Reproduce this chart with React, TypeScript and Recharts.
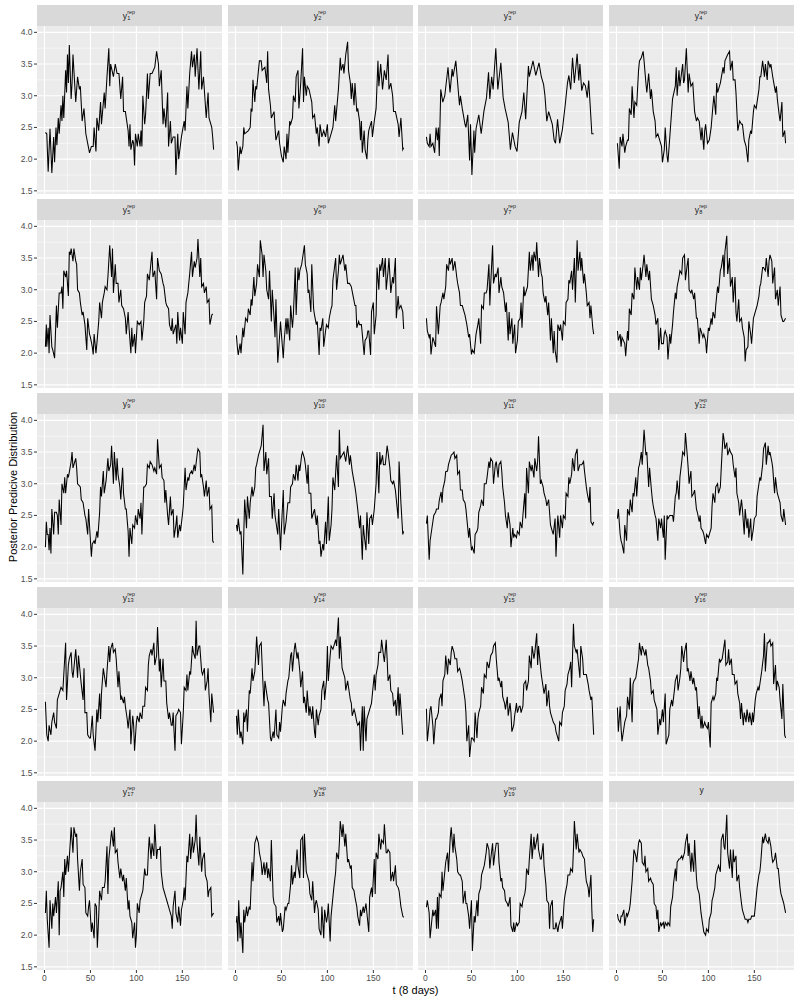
import React from "react";
import { LineChart, Line, XAxis, YAxis, CartesianGrid } from "recharts";

type Pt = [number, number];

// [t, value] pairs
const Y_REP_1: Pt[] = [[1,2.42],[2.5,2.4],[4,1.8],[6,2.48],[8,1.78],[10,2.35],[11,1.95],[12.5,2.5],[13.5,2.22],[15,2.65],[16,2.4],[18,2.85],[19,2.6],[20,3.0],[21,2.65],[23,3.4],[24,3.05],[25,3.65],[26,3.2],[27,3.8],[29,2.95],[30,3.2],[31,3.65],[34,2.9],[36,3.3],[38,3.1],[39,3.15],[41,2.6],[43,2.8],[45,2.4],[47,2.25],[49,2.1],[51,2.2],[53,2.2],[54,2.5],[56,2.12],[57,2.65],[59,2.45],[61,2.9],[62,2.55],[65,3.05],[66,2.8],[68,3.3],[70,3.75],[71,3.15],[72,3.5],[75,3.3],[77,3.5],[79,3.35],[81,3.35],[83,2.95],[85,3.3],[86,2.75],[88,2.75],[91,2.45],[92,2.2],[93,2.55],[94,2.15],[96,2.3],[97,2.25],[98,1.9],[99,2.4],[101,2.2],[102,2.4],[104,2.2],[105,2.45],[106,2.2],[107,3.0],[109,2.55],[110,2.7],[112,3.35],[113,2.95],[115,3.35],[117,3.35],[120,3.45],[122,3.7],[124,3.5],[125,3.15],[127,3.4],[129,2.55],[130,2.8],[132,2.5],[134,3.05],[135,2.2],[137,2.6],[138,2.25],[140,2.35],[142,2.35],[143,1.75],[145,2.4],[146,2.0],[149,2.35],[152,2.6],[153,2.45],[155,3.15],[156,2.8],[158,3.35],[160,3.7],[161,3.45],[163,3.65],[164,3.3],[166,3.75],[168,3.1],[170,3.7],[171,3.1],[173,3.3],[176,2.65],[178,3.05],[179,2.65],[182,2.5],[183,2.35],[184,2.15]];
const Y_REP_2: Pt[] = [[1,2.28],[2,2.2],[3,1.82],[5,2.2],[6,2.08],[8,2.2],[9,2.5],[10,2.4],[14,2.45],[16,2.5],[17,2.8],[18,2.75],[19,3.25],[21,2.9],[22,3.15],[23,3.1],[26,3.55],[28,3.55],[29,3.4],[32,3.45],[34,3.2],[35,3.7],[36,3.1],[38,2.85],[39,2.65],[42,2.75],[43,2.5],[44,2.3],[47,2.45],[48,2.25],[50,2.05],[52,1.95],[53,2.2],[55,2.0],[56,2.4],[57,2.1],[59,2.6],[60,2.55],[62,2.65],[63,3.0],[65,2.9],[66,3.3],[68,3.4],[69,2.8],[71,3.2],[73,3.75],[74,2.9],[75,3.3],[77,3.0],[78,3.15],[80,3.1],[83,2.9],[84,2.65],[86,2.7],[88,2.4],[89,2.5],[91,2.2],[92,2.55],[94,2.35],[96,2.45],[98,2.35],[100,2.55],[101,2.25],[104,2.4],[106,2.5],[108,2.85],[109,2.6],[112,3.1],[114,3.6],[115,3.4],[117,3.5],[118,3.35],[120,3.65],[122,3.85],[123,3.4],[125,3.2],[126,2.95],[127,3.2],[129,2.85],[130,3.2],[132,2.75],[133,2.8],[135,2.6],[136,2.3],[137,2.6],[138,2.1],[140,2.45],[141,2.15],[143,2.0],[144,2.3],[145,2.45],[148,2.6],[149,2.35],[151,2.6],[153,2.8],[155,3.55],[156,3.15],[158,3.5],[160,3.1],[162,3.4],[164,3.25],[166,3.65],[167,3.1],[169,3.2],[171,3.0],[172,2.75],[174,2.75],[177,2.55],[178,2.35],[180,2.65],[182,2.15],[183,2.18]];
const Y_REP_3: Pt[] = [[1,2.35],[2,2.25],[4,2.2],[5,2.4],[6,2.2],[8,2.25],[10,2.1],[11.5,2.5],[13,2.3],[14,2.5],[15,2.05],[16.6,3.1],[18.8,2.9],[21,3.0],[24.5,3.45],[26.7,3.05],[29,3.42],[30,3.3],[33,3.55],[35,3.2],[37,2.85],[38,3.0],[40,2.8],[43,2.55],[44,2.5],[46,2.7],[48,1.98],[49,2.55],[50.5,1.75],[52.7,2.45],[53.5,2.1],[55,2.48],[58,2.7],[60.6,2.4],[63.5,2.75],[66.4,2.97],[68.6,3.37],[70,2.95],[72,3.3],[73.6,3.1],[76.5,3.75],[78.7,3.1],[82,3.52],[84.5,2.97],[86.6,2.8],[90,2.58],[92.4,2.15],[94.6,2.42],[97.5,2.2],[99.6,2.12],[102,2.58],[105,2.75],[107,3.05],[109,2.63],[112,3.47],[113,3.3],[117,3.55],[120,3.32],[123.5,3.52],[126,3.3],[128.5,3.18],[130,3.0],[132,2.6],[134,2.75],[138,2.55],[140,2.3],[141.5,2.25],[143.7,2.63],[146,2.25],[149,2.47],[152,2.85],[154.5,3.2],[156,3.32],[158,3.1],[160,3.6],[162,3.2],[165,3.66],[166.8,3.24],[168,3.5],[170,3.08],[172,3.2],[174,3.16],[176,2.97],[177.6,3.24],[180,2.65],[181,2.4],[183,2.4]];
const Y_REP_4: Pt[] = [[1,2.25],[3,1.85],[4,2.35],[6,2.2],[7,2.4],[9,2.1],[10,2.2],[12,2.3],[13,2.3],[14,2.8],[16,2.7],[17,3.15],[19,2.65],[20,2.9],[22,2.85],[24,3.4],[25,3.55],[27,3.6],[29,3.7],[30,3.55],[32,3.2],[33,3.05],[35,3.35],[37,2.95],[38,3.1],[40,2.75],[42,2.6],[43,2.35],[45,2.4],[48,2.25],[49,2.2],[50,1.95],[52,2.15],[53,2.5],[55,2.05],[56,1.95],[58,2.35],[59,2.55],[61,2.95],[64,3.15],[65,3.45],[66,3.0],[68,3.4],[69,3.15],[72,3.5],[73,3.2],[74,3.25],[76,3.75],[78,3.05],[79,3.35],[81,3.15],[83,3.2],[85,2.75],[87,2.6],[88,2.65],[90,2.6],[92,2.3],[93,2.5],[95,2.15],[96,2.45],[97,2.55],[99,2.25],[101,2.3],[103,2.5],[105,2.85],[106,3.0],[108,2.7],[109,3.2],[110,3.05],[113,3.2],[116,3.45],[117,3.35],[118,3.55],[121,3.65],[123,3.7],[124,3.4],[126,3.55],[127,3.25],[129,3.25],[130,3.05],[132,2.45],[134,2.6],[136,2.55],[137,2.55],[139,2.3],[141,2.2],[143,1.95],[144,2.3],[146,2.45],[147,2.4],[149,2.75],[150,2.85],[152,2.8],[155,3.1],[156,3.3],[157,3.3],[159,3.55],[161,3.3],[162,3.5],[164,3.25],[165,3.55],[167,3.45],[168,3.5],[170,3.3],[173,3.05],[174,3.15],[175,2.95],[177,2.7],[178,2.6],[180,2.9],[181,2.35],[183,2.45],[184,2.25]];
const Y_REP_5: Pt[] = [[1,2.1],[2,2.45],[2.5,2.1],[4,2.4],[5,2.0],[6,2.6],[8,2.1],[9,2.05],[11,1.92],[13,2.75],[14,2.4],[16,2.95],[18,2.95],[19,3.05],[20,2.7],[21,3.3],[23,3.2],[24,3.3],[26,2.9],[27,3.6],[28,3.55],[29,3.65],[31,3.45],[32,3.65],[34,3.45],[35,3.4],[36,3.0],[38,2.95],[39,2.8],[41,2.6],[42,2.65],[44,2.45],[46,2.05],[47,2.55],[49,2.3],[50,2.25],[52,2.1],[53,1.98],[54,2.3],[56,2.0],[57,2.15],[59,2.5],[60,2.8],[62,2.55],[63,2.8],[65,2.95],[66,3.05],[68,3.0],[69,3.2],[71,3.7],[73,3.2],[74,3.65],[75,2.95],[77,3.4],[78,3.1],[80,3.1],[81,2.8],[83,3.0],[84,2.75],[86,2.7],[88,2.55],[89,2.3],[91,2.65],[92,2.4],[94,2.0],[95,2.4],[96,2.1],[98,2.3],[99,2.0],[101,2.5],[103,2.45],[105,2.5],[106,2.2],[108,2.5],[109,2.8],[111,2.9],[112,3.25],[114,3.15],[115,3.3],[117,3.6],[118,3.2],[120,3.3],[122,2.85],[123,3.5],[125,3.3],[127,3.25],[129,3.1],[130,3.05],[132,2.8],[133,2.75],[135,2.7],[136,2.45],[138,2.35],[139,2.55],[140,2.3],[143,2.45],[144,2.15],[145,2.65],[147,2.2],[148,2.4],[150,2.15],[151,2.65],[153,2.3],[154,2.8],[156,2.95],[157,3.1],[158,3.25],[160,3.6],[161,3.2],[163,3.45],[164,3.35],[166,3.5],[167,3.8],[169,3.2],[170,3.5],[171,3.05],[173,3.1],[174,2.95],[176,3.05],[177,2.8],[179,2.85],[180,2.45],[182,2.6],[183,2.62]];
const Y_REP_6: Pt[] = [[1,2.28],[2,2.1],[3,1.97],[5,2.15],[6,2.0],[8,2.4],[9,2.25],[11,2.55],[13,2.5],[14,2.7],[16,2.6],[17,2.85],[18,2.75],[20,3.2],[21,2.9],[23,3.1],[24,3.4],[26,3.2],[27,3.78],[29,3.55],[30,3.2],[31,3.55],[33,3.3],[34,3.0],[36,2.85],[37,3.3],[39,2.5],[40,3.0],[42,2.55],[43,2.25],[44,2.85],[46,1.85],[47,2.05],[49,2.5],[50,2.3],[52,1.92],[53,2.2],[55,2.55],[56,2.3],[57,2.55],[59,2.2],[60,2.75],[62,2.4],[63,2.6],[65,3.35],[66,2.6],[68,3.35],[69,3.15],[70,3.3],[72,3.4],[73,3.5],[75,3.7],[76,3.4],[78,3.25],[79,2.95],[80,3.0],[82,2.65],[83,3.4],[85,2.7],[86,2.6],[88,2.45],[89,2.5],[91,1.97],[92,2.4],[93,2.35],[95,2.55],[96,2.1],[98,2.35],[99,2.45],[101,2.4],[102,2.55],[104,2.7],[105,2.75],[106,3.15],[109,3.5],[110,3.0],[112,3.3],[113,3.55],[114,3.4],[117,3.55],[119,3.3],[120,3.4],[122,3.1],[124,3.1],[126,3.05],[128,2.9],[130,2.75],[131,2.75],[132,2.4],[134,2.5],[135,2.45],[137,2.45],[138,2.3],[140,1.97],[141,2.2],[143,2.25],[144,2.35],[145,2.35],[147,1.97],[148,2.65],[150,2.8],[151,2.3],[153,2.6],[154,3.35],[156,3.0],[157,3.4],[158,3.3],[160,3.5],[161,3.2],[163,3.5],[164,3.0],[166,3.3],[167,3.5],[169,2.95],[171,3.2],[172,3.1],[174,3.5],[175,2.55],[177,2.9],[178,2.7],[180,2.75],[182,2.65],[183,2.38]];
const Y_REP_7: Pt[] = [[1,2.55],[2,2.35],[4,2.25],[5,2.3],[6,1.98],[8,2.25],[9,2.2],[11,2.1],[12,2.74],[14,2.3],[16,2.75],[17,2.8],[19,2.95],[20,2.85],[22,3.05],[23,3.4],[25,3.3],[26,3.5],[27,3.4],[29,3.5],[30,3.3],[32,3.45],[34,3.2],[35,3.1],[37,2.95],[38,2.75],[40,2.75],[43,2.6],[45,2.45],[47,2.25],[48,2.3],[50,1.98],[51,2.05],[53,2.0],[55,2.3],[57,2.45],[58,2.55],[60,2.15],[61,2.75],[63,2.7],[64,2.95],[66,2.95],[67,3.0],[69,3.4],[70,2.75],[71,3.1],[73,3.7],[74,3.1],[76,3.25],[77,3.2],[79,3.35],[80,2.95],[82,3.2],[83,3.05],[85,2.95],[87,2.65],[88,2.8],[90,2.2],[91,2.65],[92,2.3],[94,2.55],[95,2.15],[97,2.45],[98,2.0],[100,2.2],[101,2.5],[103,2.55],[104,2.8],[105,2.4],[107,3.05],[108,2.9],[110,3.0],[111,3.05],[113,3.6],[114,3.3],[116,3.55],[117,3.3],[118,3.6],[120,3.45],[121,3.75],[123,3.2],[124,3.5],[126,3.25],[127,3.2],[128,2.95],[130,2.8],[131,2.9],[133,2.6],[134,2.8],[136,2.2],[137,2.55],[139,2.0],[140,2.35],[141,2.05],[143,1.85],[144,2.45],[146,2.35],[147,2.45],[149,2.2],[150,2.5],[152,2.45],[153,2.8],[155,2.85],[156,3.15],[157,3.1],[159,3.3],[160,3.0],[162,3.5],[163,2.8],[165,3.78],[166,3.3],[168,3.6],[169,3.3],[170,3.5],[172,3.1],[173,3.25],[175,2.95],[176,2.75],[178,2.8],[179,2.55],[180,2.75],[182,2.4],[183,2.3]];
const Y_REP_8: Pt[] = [[1,2.35],[2,2.2],[4,2.3],[5,2.1],[6,2.25],[9,2.15],[10,1.95],[12,2.35],[13,2.2],[14,2.7],[16,2.6],[17,2.95],[19,2.85],[20,3.35],[22,3.0],[23,3.2],[25,3.0],[26,3.35],[27,3.15],[29,3.4],[30,3.55],[32,3.2],[33,3.4],[35,3.15],[36,3.3],[38,2.85],[39,2.8],[40,2.75],[42,2.6],[43,2.45],[45,2.55],[46,2.05],[48,2.4],[49,2.15],[51,2.15],[52,2.3],[53,2.35],[55,2.25],[56,1.9],[58,2.3],[59,2.15],[61,2.45],[62,2.65],[64,2.95],[65,2.85],[66,3.05],[68,3.2],[69,3.3],[71,3.25],[72,3.5],[74,3.55],[75,3.15],[77,3.4],[78,3.5],[79,3.0],[81,2.95],[82,3.0],[84,2.85],[85,2.95],[87,2.55],[88,2.55],[90,2.15],[91,2.4],[92,2.35],[94,2.25],[95,2.3],[97,2.2],[98,2.0],[100,2.4],[101,2.35],[103,2.55],[104,2.45],[105,2.65],[107,2.55],[108,2.75],[110,3.05],[111,2.95],[113,3.3],[114,3.35],[116,3.55],[117,3.2],[118,3.6],[120,3.85],[121,3.25],[123,3.5],[124,3.05],[126,3.2],[127,2.8],[129,3.2],[130,2.65],[131,2.5],[133,2.85],[134,2.5],[136,2.55],[137,2.4],[139,2.25],[140,1.87],[141,2.05],[143,2.1],[144,2.5],[146,2.3],[147,2.15],[149,2.55],[150,2.6],[152,2.7],[153,2.75],[155,2.9],[156,3.05],[157,3.1],[159,3.35],[160,3.35],[162,3.3],[163,3.5],[165,3.2],[166,3.45],[167,3.55],[169,3.45],[170,3.1],[172,3.35],[173,2.85],[175,3.0],[176,2.75],[178,3.05],[179,2.6],[181,2.5],[182,2.5],[184,2.55]];
const Y_REP_9: Pt[] = [[1,2.0],[2,2.4],[3,2.2],[4,2.2],[5,1.95],[6,2.3],[7,1.9],[8,2.6],[10,2.2],[11,2.55],[13,2.55],[14,2.5],[15,2.2],[16,2.75],[18,2.35],[19,3.0],[21,2.85],[22,3.1],[23,2.85],[25,3.15],[26,3.1],[29,3.35],[30,3.5],[31,3.25],[34,3.4],[35,3.25],[36,3.0],[39,2.95],[40,2.75],[42,2.7],[44,2.5],[45,2.45],[47,2.2],[48,2.6],[49,2.35],[51,1.85],[52,2.05],[54,2.1],[55,2.05],[57,2.25],[58,2.15],[60,2.55],[61,2.95],[62,2.8],[64,3.2],[65,2.85],[67,3.05],[69,3.4],[70,3.2],[72,3.3],[73,3.6],[75,3.0],[76,3.5],[78,3.05],[79,3.4],[80,3.15],[82,2.95],[83,2.75],[85,3.25],[86,2.85],[88,2.6],[89,2.6],[91,2.25],[92,1.85],[93,2.3],[95,2.05],[96,2.35],[98,2.3],[99,2.5],[101,2.35],[102,2.6],[104,2.45],[105,2.7],[106,2.2],[108,2.95],[109,2.95],[111,3.0],[112,3.3],[114,3.25],[115,3.35],[117,3.3],[119,3.2],[120,3.25],[122,3.15],[123,3.7],[125,3.25],[127,3.3],[128,3.1],[130,3.05],[131,2.7],[132,2.9],[134,2.5],[135,2.35],[137,2.8],[138,2.5],[140,2.6],[141,2.15],[143,2.35],[144,2.5],[145,2.15],[147,2.35],[148,2.25],[150,2.5],[151,2.65],[153,3.25],[154,2.9],[156,3.1],[157,3.05],[158,3.15],[160,3.2],[161,3.15],[163,3.3],[164,3.2],[166,3.45],[167,3.55],[169,3.5],[170,3.1],[171,3.15],[173,2.95],[174,2.8],[176,3.05],[177,2.8],[179,2.95],[180,2.6],[182,2.65],[183,2.1],[184,2.07]];
const Y_REP_10: Pt[] = [[1,2.35],[2,2.25],[3,2.45],[5,2.2],[6,2.25],[8,1.57],[9,2.2],[10,2.75],[12,2.3],[13,2.8],[15,2.45],[16,2.7],[18,2.95],[19,2.8],[21,2.95],[22,3.25],[23,3.3],[25,3.45],[26,3.5],[28,3.6],[30,3.93],[31,3.2],[33,3.5],[34,3.15],[36,3.4],[37,2.8],[39,2.8],[40,2.45],[42,2.85],[43,2.5],[44,2.4],[46,2.2],[47,2.6],[49,1.95],[50,2.3],[52,2.9],[53,2.2],[55,2.4],[56,2.55],[57,2.7],[59,2.7],[60,2.95],[62,3.0],[63,3.15],[65,3.05],[66,3.3],[68,3.05],[69,3.3],[70,3.2],[72,3.45],[73,3.5],[75,3.4],[76,3.3],[78,3.0],[79,3.3],[80,2.85],[82,2.85],[83,2.45],[85,2.55],[86,2.6],[88,2.35],[89,2.5],[91,2.05],[92,2.1],[93,1.85],[95,2.05],[96,1.95],[98,2.4],[99,2.05],[101,2.8],[102,2.1],[104,2.35],[105,2.6],[106,3.1],[108,2.9],[110,3.45],[112,2.95],[113,3.85],[114,3.4],[116,3.45],[118,3.5],[120,3.35],[122,3.6],[124,3.3],[125,3.45],[127,3.2],[130,2.95],[131,2.85],[133,2.6],[135,2.3],[136,2.5],[138,1.8],[139,2.35],[140,2.2],[142,1.95],[143,2.55],[145,2.05],[146,2.45],[148,2.5],[149,2.35],[151,2.6],[153,3.0],[154,3.5],[156,2.85],[157,3.5],[158,3.3],[160,3.45],[161,3.3],[163,3.3],[165,3.6],[166,3.5],[168,3.25],[169,3.05],[171,3.0],[172,3.05],[174,2.9],[177,2.45],[178,3.35],[180,2.7],[182,2.2],[183,2.25]];
const Y_REP_11: Pt[] = [[1,2.37],[2,2.5],[4,1.8],[5,2.1],[6,2.2],[8,2.4],[9,2.5],[11,2.55],[12,2.6],[14,2.6],[15,2.74],[17,2.87],[18,2.7],[19,2.92],[21,3.05],[22,3.19],[24,3.2],[25,3.3],[27,3.4],[28,3.45],[30,3.48],[31,3.5],[32,3.4],[34,3.45],[35,3.15],[37,3.2],[38,2.9],[40,2.9],[41,2.75],[43,2.7],[44,2.6],[45,2.45],[47,2.15],[48,2.3],[50,1.95],[51,2.0],[53,1.9],[54,2.2],[56,2.25],[57,2.3],[58,2.55],[60,2.65],[61,2.75],[63,2.65],[64,3.0],[66,3.0],[67,3.1],[69,3.35],[70,3.25],[71,3.4],[73,3.35],[74,3.0],[76,3.3],[77,3.35],[79,3.1],[80,3.3],[82,3.35],[83,3.2],[84,2.95],[86,2.7],[87,2.5],[89,2.3],[90,2.55],[92,2.35],[93,2.0],[95,2.3],[96,2.15],[97,2.2],[99,2.15],[100,2.25],[102,2.2],[103,2.4],[105,2.3],[106,2.5],[108,2.85],[109,2.45],[110,3.25],[112,2.85],[113,3.35],[115,3.2],[116,3.3],[118,3.1],[119,3.4],[121,3.2],[122,3.35],[123,3.75],[125,3.0],[126,3.05],[128,2.95],[129,2.85],[131,2.75],[132,2.65],[134,2.75],[135,2.55],[136,2.35],[138,2.25],[139,2.2],[141,2.45],[142,1.85],[143,2.2],[144,2.5],[146,2.15],[147,2.5],[149,2.3],[150,2.5],[152,2.45],[153,2.85],[155,2.8],[156,3.1],[157,3.0],[159,3.15],[160,3.4],[162,3.2],[163,3.45],[165,3.55],[166,3.2],[168,3.3],[169,3.3],[170,3.3],[172,3.35],[173,3.2],[175,2.95],[176,2.85],[178,2.7],[179,2.95],[180,2.4],[182,2.35],[183,2.4]];
const Y_REP_12: Pt[] = [[1,2.45],[2,2.6],[4,2.2],[5,2.1],[6,2.05],[8,1.9],[9,2.35],[11,2.1],[12,2.6],[14,2.5],[15,2.75],[17,2.55],[18,2.85],[19,2.8],[21,3.1],[22,2.8],[24,3.25],[25,3.3],[27,3.5],[28,3.3],[30,3.85],[32,3.45],[33,3.5],[35,2.95],[36,3.25],[38,2.9],[39,2.75],[40,2.65],[42,2.5],[43,2.45],[45,2.1],[46,2.45],[48,2.3],[49,2.45],[51,2.15],[52,2.5],[53,1.8],[55,2.5],[56,2.45],[58,2.5],[59,2.5],[61,2.5],[62,2.4],[64,2.8],[65,2.85],[66,3.05],[68,2.75],[69,3.1],[71,3.35],[72,3.5],[74,3.45],[75,3.8],[77,3.45],[78,3.25],[79,3.0],[81,3.2],[82,2.8],[84,2.85],[85,2.9],[87,2.6],[88,2.55],[90,2.4],[91,2.5],[92,2.3],[94,2.25],[95,2.2],[97,2.05],[98,2.2],[100,2.15],[101,2.2],[103,2.3],[104,2.65],[105,2.85],[107,2.7],[108,2.95],[110,3.0],[111,2.85],[113,2.95],[114,3.25],[116,3.8],[117,3.7],[118,3.55],[120,3.65],[121,3.45],[123,3.55],[124,3.5],[126,3.45],[127,3.3],[129,3.1],[130,3.25],[131,2.85],[133,2.7],[134,2.5],[136,2.75],[137,2.6],[139,2.2],[140,2.6],[142,2.3],[143,2.45],[144,2.15],[146,2.45],[147,2.1],[149,2.3],[150,2.45],[152,2.5],[153,2.8],[155,3.0],[156,3.1],[157,3.05],[159,3.3],[160,3.55],[162,3.65],[163,3.3],[165,3.6],[166,3.45],[167,3.5],[169,3.35],[170,3.25],[172,2.85],[173,3.1],[175,2.85],[176,2.8],[178,2.7],[179,2.5],[181,2.4],[182,2.6],[184,2.35]];
const Y_REP_13: Pt[] = [[1,2.62],[2.5,2.1],[4,2.0],[5,2.25],[7,2.1],[8,2.3],[10,2.45],[11,2.3],[13,2.2],[14,2.65],[16,2.75],[17,2.8],[18,2.85],[20,2.8],[21,3.05],[23,3.55],[24,2.65],[26,3.2],[27,3.3],[29,3.4],[30,3.1],[31,3.0],[33,3.3],[34,3.45],[36,3.0],[37,3.35],[39,3.05],[40,2.9],[42,2.65],[43,3.15],[44,2.45],[46,2.45],[47,2.1],[49,2.05],[50,2.05],[52,2.4],[53,2.1],[55,1.85],[57,2.5],[58,2.3],[60,2.75],[61,2.35],[62,2.75],[64,3.15],[65,3.05],[67,2.85],[68,3.1],[70,3.5],[71,3.25],[72,3.45],[74,3.55],[75,3.4],[77,3.45],[78,3.3],[80,2.85],[81,3.1],[83,2.65],[84,2.7],[86,2.6],[87,2.7],[88,2.55],[90,2.35],[91,2.2],[93,2.5],[94,1.95],[96,2.4],[97,2.25],[98,1.85],[100,2.3],[101,2.4],[103,2.3],[104,2.45],[106,2.35],[107,2.55],[109,2.55],[110,2.85],[112,2.8],[113,3.2],[114,3.35],[116,3.45],[117,3.35],[119,3.55],[120,3.2],[122,3.35],[123,3.8],[125,3.1],[126,3.3],[127,2.85],[129,3.3],[130,2.95],[132,2.95],[133,2.6],[135,2.35],[136,2.45],[138,2.25],[139,2.25],[140,2.45],[142,1.85],[143,2.4],[145,2.45],[146,2.5],[148,2.45],[149,1.95],[151,2.45],[152,2.85],[154,2.8],[155,3.05],[156,2.8],[158,3.1],[159,3.05],[161,3.5],[162,3.4],[164,3.3],[165,3.9],[166,3.35],[168,3.5],[169,3.5],[171,3.1],[172,3.05],[174,3.15],[175,2.8],[177,2.95],[178,3.15],[179,2.75],[181,2.3],[182,2.75],[184,2.45]];
const Y_REP_14: Pt[] = [[1,2.4],[2,2.1],[3,2.5],[5,2.05],[6,2.15],[8,1.95],[9,2.45],[10,2.3],[12,2.5],[13,2.15],[15,2.8],[16,2.75],[18,3.15],[19,2.95],[21,3.1],[22,3.35],[23,3.65],[25,3.2],[26,3.5],[28,3.55],[29,3.2],[31,2.55],[32,2.95],[34,2.75],[35,2.65],[36,2.6],[38,2.05],[39,2.0],[41,2.15],[42,2.05],[44,2.5],[45,2.1],[47,2.05],[48,2.3],[49,2.15],[51,2.55],[52,2.65],[54,2.55],[55,2.75],[57,2.95],[58,3.0],[60,3.35],[61,3.4],[62,3.1],[64,3.45],[65,3.55],[67,3.3],[68,3.4],[70,3.1],[71,2.85],[73,3.1],[74,2.6],[75,2.7],[77,2.45],[78,2.8],[80,2.4],[81,2.55],[83,2.35],[84,2.55],[86,2.15],[87,2.05],[88,2.5],[90,2.25],[91,2.4],[93,2.5],[94,2.8],[96,2.95],[97,2.65],[99,2.95],[100,3.5],[101,2.95],[103,3.35],[104,3.5],[106,3.45],[107,3.5],[109,3.6],[110,3.5],[112,3.95],[113,3.3],[114,3.65],[116,3.15],[117,3.1],[119,3.0],[120,2.8],[122,2.95],[123,2.85],[125,2.65],[126,2.6],[127,2.4],[129,2.5],[130,2.45],[132,2.3],[133,2.25],[135,2.3],[136,1.85],[138,2.55],[139,1.85],[140,2.55],[142,2.0],[143,2.35],[145,2.45],[146,2.5],[148,2.6],[149,2.75],[151,3.05],[152,2.8],[153,3.05],[155,3.2],[156,3.4],[158,3.4],[159,3.6],[161,3.35],[162,3.25],[164,3.6],[165,3.3],[166,2.95],[168,3.05],[169,2.8],[171,2.75],[172,2.55],[174,2.65],[175,2.4],[177,2.85],[178,2.4],[179,2.75],[182,2.1]];
const Y_REP_15: Pt[] = [[1,2.51],[2,2.0],[4,2.3],[5,2.5],[6,2.55],[8,2.25],[9,1.95],[11,2.35],[12,2.35],[14,2.45],[15,2.65],[17,2.75],[18,2.55],[19,2.95],[21,3.05],[22,3.35],[24,3.05],[25,3.3],[27,3.2],[28,3.4],[29,3.5],[31,3.4],[32,3.3],[34,3.3],[35,3.1],[37,3.15],[38,3.1],[40,2.95],[41,2.85],[43,2.65],[44,2.45],[45,2.0],[47,2.25],[48,1.75],[50,2.05],[51,2.05],[53,2.0],[54,2.45],[56,2.05],[57,2.35],[58,2.45],[60,2.55],[61,2.85],[63,2.75],[64,3.05],[66,3.0],[67,3.25],[69,3.15],[70,3.25],[71,3.35],[73,3.4],[74,3.5],[76,3.55],[77,3.3],[79,2.95],[80,3.0],[82,2.85],[83,2.95],[84,2.7],[86,2.6],[87,2.5],[89,2.7],[90,2.4],[92,2.6],[93,2.45],[94,2.15],[96,2.25],[97,2.4],[99,2.6],[100,2.45],[102,2.55],[103,2.55],[104,2.45],[106,2.55],[107,2.9],[109,2.95],[110,2.8],[112,2.95],[113,3.35],[115,3.15],[116,3.5],[118,3.3],[119,3.4],[121,3.7],[122,3.2],[123,3.5],[125,3.2],[126,3.05],[128,2.85],[129,2.75],[131,2.9],[132,2.55],[134,2.8],[135,2.55],[136,2.45],[138,2.35],[139,2.3],[141,2.25],[142,2.15],[144,2.05],[145,2.0],[146,2.3],[148,2.25],[149,2.45],[151,2.55],[152,2.8],[154,2.9],[155,3.05],[157,3.15],[158,3.25],[159,2.85],[161,3.85],[162,3.5],[164,3.4],[165,3.45],[166,3.3],[168,3.0],[169,3.5],[171,3.3],[172,3.05],[174,3.05],[175,3.05],[177,2.9],[178,2.8],[180,2.65],[181,2.7],[183,2.1]];
const Y_REP_16: Pt[] = [[1,2.53],[2,2.15],[4,2.55],[5,2.2],[6,2.0],[8,2.2],[9,2.3],[11,2.4],[12,2.7],[14,2.5],[15,3.0],[17,2.3],[18,2.9],[19,2.95],[21,3.0],[22,3.1],[24,3.3],[25,3.55],[27,3.35],[28,3.5],[30,3.4],[31,3.35],[32,3.45],[34,3.2],[35,3.15],[37,2.95],[38,2.75],[40,2.8],[41,2.65],[43,2.55],[44,2.5],[45,2.1],[47,2.35],[48,2.25],[50,2.5],[51,2.3],[53,2.75],[54,1.95],[56,2.05],[57,2.1],[58,2.5],[60,2.65],[61,2.55],[63,2.8],[64,2.95],[66,3.05],[67,2.8],[69,3.0],[70,3.15],[71,3.5],[73,3.25],[74,3.4],[76,3.55],[77,3.1],[78,3.15],[80,2.95],[81,3.1],[83,2.9],[84,3.0],[86,2.8],[87,2.85],[89,2.35],[90,2.55],[92,2.2],[93,2.4],[94,2.2],[96,2.3],[97,2.25],[99,2.2],[100,2.3],[102,1.9],[103,2.6],[105,2.7],[106,2.65],[108,2.75],[109,3.0],[110,2.95],[112,3.3],[113,3.25],[115,3.3],[116,3.4],[118,3.6],[119,3.2],[121,3.25],[122,3.45],[123,3.2],[125,3.3],[126,3.05],[128,3.05],[129,2.9],[131,2.95],[132,2.75],[134,2.6],[135,2.35],[136,2.6],[138,2.25],[139,2.45],[141,2.3],[142,2.5],[144,2.3],[145,2.45],[147,2.25],[148,2.45],[149,2.3],[151,2.65],[152,2.75],[154,2.85],[155,2.8],[157,3.0],[158,3.1],[160,3.35],[161,3.7],[162,3.1],[164,3.55],[165,3.55],[167,3.6],[168,3.5],[170,3.55],[171,2.9],[173,3.2],[174,2.8],[175,2.95],[177,2.85],[178,2.65],[180,2.35],[181,2.9],[183,2.1],[184,2.05]];
const Y_REP_17: Pt[] = [[1,2.35],[2,2.7],[3,2.25],[5,1.8],[6,2.55],[8,2.1],[9,2.5],[10,2.3],[12,2.6],[13,2.35],[15,2.85],[16,2.0],[17,2.7],[18,2.75],[20,3.0],[21,2.6],[22,3.2],[23,2.95],[25,3.25],[26,3.0],[28,3.45],[29,3.7],[31,3.3],[32,3.7],[34,3.55],[35,3.6],[36,3.2],[38,2.7],[39,3.0],[41,3.2],[42,2.8],[44,2.75],[45,2.35],[47,2.3],[48,2.45],[49,2.55],[51,2.05],[52,2.2],[54,1.95],[55,2.5],[56.5,2.45],[57.5,1.8],[59,2.3],[60,2.7],[62,2.55],[63,2.75],[65,2.75],[66,2.85],[68,3.4],[69,2.65],[70,3.2],[72,3.5],[73,3.65],[75,3.4],[76,3.7],[77,3.3],[79,3.35],[80,3.15],[82,2.9],[83,3.05],[85,2.85],[86,2.95],[88,2.7],[89,2.9],[91,2.4],[92,2.55],[93,2.3],[95,2.2],[96,1.95],[98,2.2],[99,1.8],[100,2.0],[101,2.5],[103,2.35],[104,2.55],[106,2.65],[107,2.7],[109,3.05],[110,2.95],[112,2.95],[113,3.3],[114,3.55],[116,3.2],[117,3.45],[119,3.25],[120,3.75],[122,3.2],[123,3.35],[125,3.35],[126,3.4],[127,3.0],[129,2.75],[130,2.7],[132,2.6],[133,2.55],[135,2.45],[136,2.4],[138,2.3],[139,2.1],[140,2.45],[142,2.7],[143,2.35],[145,2.2],[146,2.45],[148,2.15],[149,2.4],[151,2.55],[152,2.75],[153,2.55],[155,3.25],[156,3.15],[158,3.6],[159,3.2],[161,3.55],[162,3.3],[164,3.5],[165,3.9],[166,3.45],[168,3.1],[169,3.55],[171,3.0],[172,3.2],[174,3.3],[175,2.95],[177,2.85],[178,2.6],[179,2.7],[181,2.75],[182,2.3],[184,2.35]];
const Y_REP_18: Pt[] = [[1,2.2],[1.5,2.3],[2.5,1.9],[3.5,2.55],[5,1.95],[6,2.2],[8,1.72],[9,2.4],[10,2.2],[12,2.45],[13,2.3],[15,2.45],[16,2.4],[18,3.15],[19,2.85],[21,3.45],[22,3.5],[23,3.55],[25,3.45],[26,3.3],[28,3.15],[29,2.95],[31,3.15],[32,2.95],[34,3.15],[35,2.9],[36,3.05],[38,2.85],[39,3.5],[41,2.6],[42,2.5],[44,2.45],[45,2.2],[47,2.3],[48,2.15],[49,2.35],[51,2.05],[52,2.1],[54,2.45],[55,2.4],[57,2.5],[58,2.5],[60,2.8],[61,3.1],[62,2.8],[64,3.0],[65,2.9],[67,3.35],[68,3.1],[70,2.9],[71,3.5],[73,3.55],[74,2.9],[75,3.6],[77,3.0],[78,2.95],[80,2.85],[81,2.65],[83,2.55],[84,2.85],[86,2.35],[87,2.5],[88,2.55],[90,2.4],[91,2.1],[93,2.0],[94,2.45],[96,1.95],[97,2.4],[99,2.2],[100,2.3],[101,2.5],[103,1.9],[104,2.3],[106,2.6],[107,2.75],[109,3.0],[110,3.3],[112,3.2],[113,3.45],[114,3.8],[116,3.55],[117,3.75],[119,3.4],[120,3.6],[122,3.15],[123,3.2],[125,3.05],[126,3.1],[127,2.75],[129,2.7],[130,2.6],[132,2.45],[133,2.3],[135,2.15],[136,2.4],[137,2.3],[139,2.45],[140,2.35],[142,2.5],[143,2.35],[145,2.05],[146,2.6],[148,2.75],[149,2.6],[151,3.2],[152,2.65],[153,3.3],[155,3.2],[156,3.6],[158,3.35],[159,3.5],[161,3.45],[162,3.75],[164,3.3],[165,3.3],[166,3.35],[168,3.3],[169,2.85],[171,3.0],[172,2.85],[174,3.1],[175,2.8],[177,2.75],[178,2.7],[180,2.45],[182,2.3],[183,2.28]];
const Y_REP_19: Pt[] = [[1,2.44],[2,2.55],[4,2.35],[5,1.95],[6,2.1],[8,2.4],[9,2.3],[11,2.4],[12,2.1],[13,2.6],[14,2.1],[15,2.65],[17,2.6],[18,3.0],[19,2.7],[21,3.0],[22,3.15],[24,3.3],[25,3.0],[27,3.55],[28,3.7],[30,3.3],[31,3.6],[32,3.4],[34,3.2],[35,3.0],[37,2.95],[38,2.95],[40,2.85],[41,2.5],[43,2.7],[44,2.5],[45,2.5],[47,2.3],[48,2.1],[50,2.55],[51,1.75],[53,2.3],[54,2.2],[56,2.55],[57,2.3],[58,2.65],[60,2.75],[61,2.95],[63,3.05],[64,3.1],[66,3.3],[67,3.45],[69,3.35],[70,3.05],[71,3.2],[73,3.45],[74,3.1],[76,3.35],[77,3.45],[79,3.45],[80,3.15],[82,2.85],[83,2.9],[84,2.75],[86,2.7],[87,2.55],[89,2.5],[90,2.45],[92,2.6],[93,2.15],[95,2.05],[96,2.2],[97,2.05],[99,2.2],[100,2.15],[102,2.2],[103,2.5],[105,2.45],[106,2.55],[108,2.65],[109,2.75],[110,3.05],[112,2.95],[113,3.2],[115,3.6],[116,3.2],[118,3.55],[119,3.35],[121,3.5],[122,3.6],[123,3.35],[125,3.2],[126,3.2],[128,3.45],[129,3.1],[131,2.8],[132,2.55],[134,2.5],[135,2.1],[136,2.45],[138,2.55],[139,2.1],[141,2.1],[142,2.2],[144,2.05],[145,2.15],[146,2.2],[148,2.3],[149,2.1],[151,2.55],[152,2.65],[154,2.8],[155,2.95],[157,2.95],[158,3.05],[160,3.0],[161,3.35],[162,3.8],[164,3.35],[165,3.6],[167,3.3],[168,3.35],[170,3.3],[171,3.25],[173,3.2],[174,3.0],[175,2.85],[177,2.75],[178,2.6],[180,2.95],[181,2.4],[182,2.05],[183,2.25]];
const Y_OBS: Pt[] = [[1,2.33],[2,2.25],[4,2.2],[5,2.3],[6,2.3],[8,2.4],[9,2.15],[11,2.35],[12,2.3],[14,2.4],[15,2.5],[17,2.85],[18,3.1],[19,3.35],[21,3.25],[22,3.15],[24,3.45],[25,3.5],[27,3.45],[28,3.15],[30,3.1],[31,3.25],[32,3.0],[34,3.05],[35,2.85],[37,2.9],[38,2.85],[40,2.8],[41,2.5],[43,2.45],[44,2.25],[45,2.4],[46,2.05],[48,2.2],[49,2.15],[51,2.2],[52,2.1],[53,2.2],[55,2.15],[56,2.2],[58,2.15],[59,2.45],[61,2.6],[62,2.8],[64,3.05],[65,2.85],[66,3.15],[68,3.2],[69,3.2],[71,3.25],[72,3.2],[74,3.3],[75,3.45],[77,3.6],[78,3.25],[79,3.45],[81,3.0],[82,3.3],[84,3.0],[85,3.5],[87,2.9],[88,2.75],[90,2.65],[91,2.5],[92,2.35],[94,2.15],[95,2.05],[97,2.0],[98,2.1],[100,2.05],[101,2.25],[103,2.35],[104,2.55],[105,2.6],[107,2.75],[108,2.95],[110,3.05],[111,3.1],[113,3.0],[114,3.5],[116,3.6],[117,3.4],[118,3.35],[120,3.9],[121,3.3],[123,3.05],[124,3.35],[126,2.9],[127,3.35],[128,3.15],[130,3.25],[131,2.85],[133,2.95],[134,2.75],[136,2.5],[137,2.4],[139,2.3],[140,2.25],[142,2.25],[143,2.2],[144,2.25],[146,2.25],[147,2.3],[149,2.3],[150,2.3],[152,2.6],[153,2.75],[155,2.95],[156,3.0],[157,3.15],[159,3.55],[160,3.45],[162,3.6],[163,3.5],[165,3.45],[166,3.55],[168,3.4],[169,3.25],[170,3.15],[172,3.2],[173,3.3],[175,3.05],[176,3.05],[178,2.75],[179,2.65],[181,2.55],[182,2.5],[184,2.35]];

const SERIES: Pt[][] = [
  Y_REP_1, Y_REP_2, Y_REP_3, Y_REP_4, Y_REP_5, Y_REP_6, Y_REP_7, Y_REP_8, Y_REP_9, Y_REP_10,
  Y_REP_11, Y_REP_12, Y_REP_13, Y_REP_14, Y_REP_15, Y_REP_16, Y_REP_17, Y_REP_18, Y_REP_19, Y_OBS,
];
const STRIP_SUBSCRIPTS = ["1", "2", "3", "4", "5", "6", "7", "8", "9", "10", "11", "12", "13", "14", "15", "16", "17", "18", "19", ""];

const Y_TICKS = [1.5, 2.0, 2.5, 3.0, 3.5, 4.0];
const Y_MINOR = [1.75, 2.25, 2.75, 3.25, 3.75];
const X_TICKS = [0, 50, 100, 150];
const X_MINOR = [25, 75, 125, 175];

const Y_TITLE = "Posterior Predicive Distribution";
const X_TITLE = "t (8 days)";

const FONT = '"Liberation Sans", Arial, Helvetica, sans-serif';
const COL_LEFT = [37, 228, 418, 609];
const STRIP_TOP = [5, 199, 393, 587, 781];
const PANEL_W = 185;
const STRIP_H = 21;
const PANEL_H = 168;
const Y_AXIS_W = 37;
const X_AXIS_H = 18;
const PAD = 7;

function Strip({ left, top, sub }: { left: number; top: number; sub: string }) {
  const a = PANEL_W / 2 - 2.5;
  return (
    <svg style={{ position: "absolute", left, top }} width={PANEL_W} height={STRIP_H}>
      <rect x={0} y={0} width={PANEL_W} height={STRIP_H} fill="#d9d9d9" />
      {sub ? (
        <g fontFamily={FONT} fill="#1a1a1a">
          <text x={a} y={14.2} fontSize={8.5} textAnchor="end">y</text>
          <text x={a + 0.3} y={8.7} fontSize={5.3}>rep</text>
          <text x={a + 0.3} y={14.6} fontSize={5.6}>{sub}</text>
        </g>
      ) : (
        <text x={PANEL_W / 2} y={12} fontSize={8.5} textAnchor="middle" fontFamily={FONT} fill="#1a1a1a">y</text>
      )}
    </svg>
  );
}

function Facet({ idx }: { idx: number }) {
  const r = Math.floor(idx / 4);
  const c = idx % 4;
  const data = SERIES[idx].map(([t, v]) => ({ t, v }));
  const showY = c === 0;
  const showX = r === 4;
  const padTop = showY ? PAD : 0;
  const padBottom = showY && !showX ? PAD : 0;
  const w = PANEL_W + (showY ? Y_AXIS_W : 0);
  const h = PANEL_H + (showX ? X_AXIS_H : 0) + padTop + padBottom;
  const left = COL_LEFT[c] - (showY ? Y_AXIS_W : 0);
  const top = STRIP_TOP[r] + STRIP_H - padTop;
  return (
    <>
      <Strip left={COL_LEFT[c]} top={STRIP_TOP[r]} sub={STRIP_SUBSCRIPTS[idx]} />
      <div style={{ position: "absolute", left, top }}>
        <LineChart width={w} height={h} data={data} margin={{ top: padTop, right: 0, bottom: padBottom, left: 0 }}>
          <CartesianGrid
            fill="#ebebeb"
            stroke="#ffffff"
            strokeWidth={0.55}
            horizontalValues={Y_MINOR}
            verticalValues={X_MINOR}
          />
          <CartesianGrid
            fill="none"
            stroke="#ffffff"
            strokeWidth={1.1}
            horizontalValues={Y_TICKS}
            verticalValues={X_TICKS}
          />
          <XAxis
            dataKey="t"
            type="number"
            domain={[-8.15, 193.15]}
            allowDataOverflow
            ticks={X_TICKS}
            interval={0}
            hide={!showX}
            height={showX ? X_AXIS_H : 0}
            axisLine={false}
            tickSize={3}
            tickMargin={1.5}
            tickLine={{ stroke: "#333333", strokeWidth: 1 }}
            tick={{ fill: "#4d4d4d", fontSize: 8.5, fontFamily: FONT }}
          />
          <YAxis
            type="number"
            domain={[1.45, 4.1]}
            allowDataOverflow
            ticks={Y_TICKS}
            interval={0}
            hide={!showY}
            width={showY ? Y_AXIS_W : 0}
            axisLine={false}
            tickSize={3}
            tickMargin={1.5}
            tickFormatter={(v: number) => v.toFixed(1)}
            tickLine={{ stroke: "#333333", strokeWidth: 1 }}
            tick={{ fill: "#4d4d4d", fontSize: 8.5, fontFamily: FONT }}
          />
          <Line
            type="linear"
            dataKey="v"
            stroke="#000000"
            strokeWidth={1.05}
            dot={false}
            activeDot={false}
            isAnimationActive={false}
          />
        </LineChart>
      </div>
    </>
  );
}

export default function App() {
  return (
    <div style={{ position: "absolute", left: 0, top: 0, width: 800, height: 1000, background: "#ffffff", fontFamily: FONT }}>
      {SERIES.map((_, i) => (
        <Facet key={i} idx={i} />
      ))}
      <div
        style={{
          position: "absolute",
          left: 12.5,
          top: 487,
          transform: "translate(-50%, -50%) rotate(-90deg)",
          whiteSpace: "nowrap",
          fontSize: 11,
          color: "#000",
          lineHeight: "13px",
        }}
      >
        {Y_TITLE}
      </div>
      <div
        style={{
          position: "absolute",
          left: 415.5,
          top: 990,
          transform: "translate(-50%, -50%)",
          whiteSpace: "nowrap",
          fontSize: 11,
          color: "#000",
          lineHeight: "13px",
        }}
      >
        {X_TITLE}
      </div>
    </div>
  );
}
